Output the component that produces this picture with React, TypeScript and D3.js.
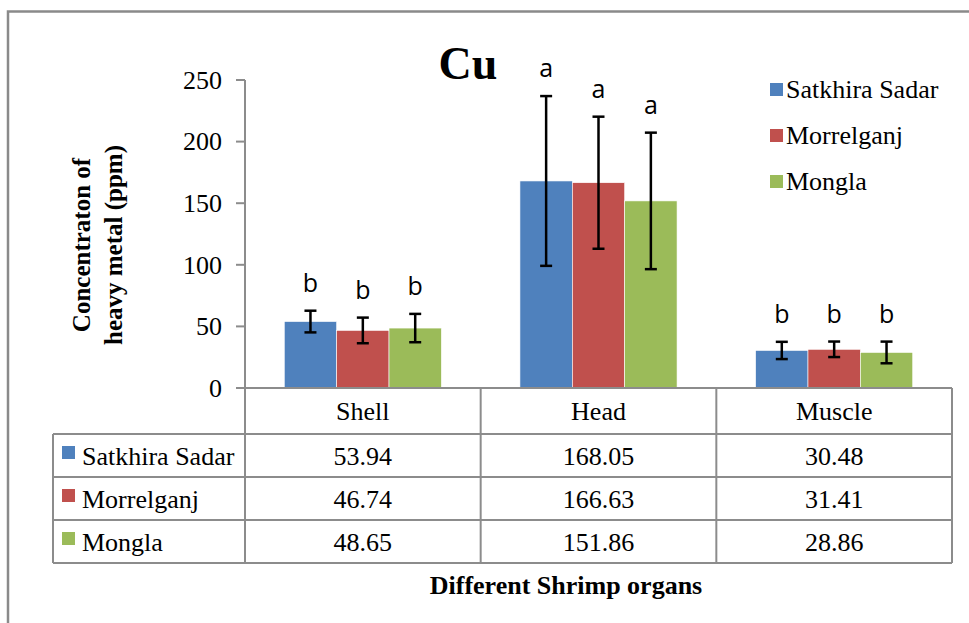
import React from "react";
import * as d3 from "d3";

const categories = ["Shell", "Head", "Muscle"];
const seriesNames = ["Satkhira Sadar", "Morrelganj", "Mongla"];
const satkhira = [53.94, 168.05, 30.48];
const morrelganj = [46.74, 166.63, 31.41];
const mongla = [48.65, 151.86, 28.86];
const satkhiraErr = [8.8, 68.9, 7.0];
const morrelganjErr = [10.4, 53.6, 6.3];
const monglaErr = [11.5, 55.4, 8.8];
const satkhiraLetters = ["b", "a", "b"];
const morrelganjLetters = ["b", "a", "b"];
const monglaLetters = ["b", "a", "b"];
const yTicks = [0, 50, 100, 150, 200, 250];
const colors = ["#4F81BD", "#C0504D", "#9BBB59"];

const values = [satkhira, morrelganj, mongla];
const errors = [satkhiraErr, morrelganjErr, monglaErr];
const letters = [satkhiraLetters, morrelganjLetters, monglaLetters];

const W = 969;
const H = 623;
const plotLeft = 245;
const plotRight = 952;
const y0 = 388;
const yTop = 80;
const tableLeft = 53;
const rowLines = [434, 477, 520, 563];
const grid = "#8c8c8c";
const serif = "'Liberation Serif', 'Times New Roman', serif";
const sans = "'Open Sans', 'Liberation Sans', sans-serif";

export default function App() {
  const x = d3.scaleBand<string>().domain(categories).range([plotLeft, plotRight]).paddingInner(0).paddingOuter(0);
  const xs = d3.scaleBand<string>().domain(seriesNames).range([0, x.bandwidth()]).paddingInner(0).paddingOuter(0.75);
  const y = d3.scaleLinear().domain([0, 250]).range([y0, yTop]);
  const capW = 6;

  return (
    <div style={{ position: "absolute", left: 0, top: 0 }}>
      <svg width={W} height={H} style={{ display: "block", background: "#fff" }}>
        {/* outer frame */}
        <path d={`M8,${H} V11.5 H${W}`} fill="none" stroke="#8a8a8a" strokeWidth={2.5} />

        {/* title */}
        <text x={468} y={79} textAnchor="middle" fontFamily={serif} fontWeight="bold" fontSize={46}>Cu</text>

        {/* y axis */}
        <line x1={plotLeft} x2={plotLeft} y1={y(250)} y2={y0} stroke={grid} strokeWidth={2} />
        {yTicks.map((t) => (
          <g key={t}>
            <line x1={plotLeft - 9} x2={plotLeft} y1={y(t)} y2={y(t)} stroke={grid} strokeWidth={2} />
            <text x={222} y={y(t)} dy="0.34em" textAnchor="end" fontFamily={serif} fontSize={26}>{t}</text>
          </g>
        ))}

        {/* y axis title */}
        <g transform="translate(90,245) rotate(-90)">
          <text x={0} y={0} textAnchor="middle" fontFamily={serif} fontWeight="bold" fontSize={25}>Concentraton of</text>
          <text x={0} y={32} textAnchor="middle" fontFamily={serif} fontWeight="bold" fontSize={25}>heavy metal (ppm)</text>
        </g>

        {/* bars */}
        {values.map((vals, si) =>
          vals.map((v, ci) => {
            const bx = (x(categories[ci]) ?? 0) + (xs(seriesNames[si]) ?? 0);
            return (
              <rect key={`b${si}-${ci}`} x={bx} y={y(v)} width={xs.bandwidth()} height={y0 - y(v)} fill={colors[si]} stroke="#fff" strokeWidth={0.6} />
            );
          })
        )}

        {/* error bars & letters */}
        {values.map((vals, si) =>
          vals.map((v, ci) => {
            const cx = (x(categories[ci]) ?? 0) + (xs(seriesNames[si]) ?? 0) + xs.bandwidth() / 2;
            const e = errors[si][ci];
            const top = y(v + e);
            const bot = y(v - e);
            return (
              <g key={`e${si}-${ci}`}>
                <line x1={cx} x2={cx} y1={top} y2={bot} stroke="#000" strokeWidth={2.5} />
                <line x1={cx - capW} x2={cx + capW} y1={top} y2={top} stroke="#000" strokeWidth={2.5} />
                <line x1={cx - capW} x2={cx + capW} y1={bot} y2={bot} stroke="#000" strokeWidth={2.5} />
                <text x={cx} y={top - 19} textAnchor="middle" fontFamily={sans} fontSize={25}>{letters[si][ci]}</text>
              </g>
            );
          })
        )}

        {/* legend */}
        {seriesNames.map((s, i) => (
          <g key={`l${i}`} transform={`translate(770,${98 + i * 46})`}>
            <rect x={0} y={-15} width={13} height={13} fill={colors[i]} />
            <text x={16} y={0} fontFamily={serif} fontSize={26}>{s}</text>
          </g>
        ))}

        {/* data table */}
        <g stroke={grid} strokeWidth={2} fill="none">
          <line x1={plotLeft} x2={plotRight} y1={y0} y2={y0} />
          {rowLines.map((ry) => (
            <line key={ry} x1={tableLeft} x2={plotRight} y1={ry} y2={ry} />
          ))}
          <line x1={tableLeft} x2={tableLeft} y1={rowLines[0]} y2={rowLines[3]} />
          <line x1={plotLeft} x2={plotLeft} y1={y0} y2={rowLines[3]} />
          {categories.map((c) => (
            <line key={c} x1={(x(c) ?? 0) + x.bandwidth()} x2={(x(c) ?? 0) + x.bandwidth()} y1={y0} y2={rowLines[3]} />
          ))}
        </g>
        {categories.map((c) => (
          <text key={`h${c}`} x={(x(c) ?? 0) + x.bandwidth() / 2} y={420} textAnchor="middle" fontFamily={serif} fontSize={26}>{c}</text>
        ))}
        {seriesNames.map((s, si) => (
          <g key={`r${si}`}>
            <rect x={62} y={rowLines[si] + 12} width={13} height={13} fill={colors[si]} />
            <text x={82} y={rowLines[si] + 31} fontFamily={serif} fontSize={26}>{s}</text>
            {values[si].map((v, ci) => (
              <text key={ci} x={(x(categories[ci]) ?? 0) + x.bandwidth() / 2} y={rowLines[si] + 31} textAnchor="middle" fontFamily={serif} fontSize={26}>
                {v.toFixed(2)}
              </text>
            ))}
          </g>
        ))}

        {/* x axis title */}
        <text x={566} y={594} textAnchor="middle" fontFamily={serif} fontWeight="bold" fontSize={26}>Different Shrimp organs</text>
      </svg>
    </div>
  );
}
